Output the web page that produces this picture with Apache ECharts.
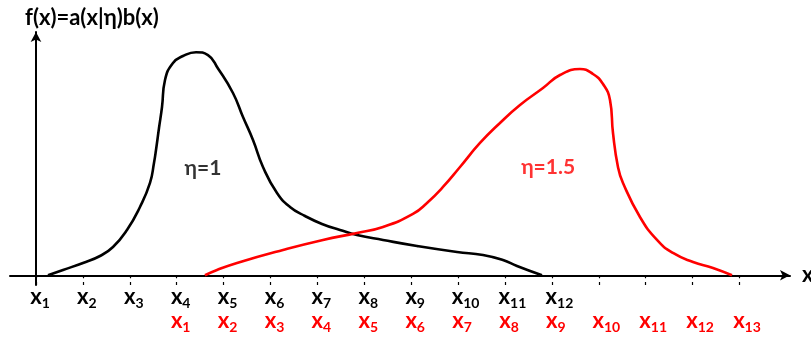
<!DOCTYPE html>
<html>
<head>
<meta charset="utf-8">
<title>f(x)=a(x|η)b(x)</title>
<script src="https://cdn.jsdelivr.net/npm/echarts@6/dist/echarts.min.js"></script>
<style>
  html, body { margin: 0; padding: 0; background: #fff; }
  #chart { width: 811px; height: 339px; }
</style>
</head>
<body>
<div id="chart"></div>
<script>
// Horizontal position is measured in tick steps: tick k sits at value k.
const tickPositions = [0, 1, 2, 3, 4, 5, 6, 7, 8, 9, 10, 11, 12, 13, 14, 15];

// Subscripts of the black tick labels (x1..x12), starting at tick 0
const blackSubscripts = ['1', '2', '3', '4', '5', '6', '7', '8', '9', '10', '11', '12'];
const blackFirstTick = 0;
// Subscripts of the red tick labels (x1..x13), starting at tick 3
const redSubscripts = ['1', '2', '3', '4', '5', '6', '7', '8', '9', '10', '11', '12', '13'];
const redFirstTick = 3;

// Curve for eta = 1: [position, f(x)]
const curveEta1 = [
  [0.256, 0], [0.576, 2.18], [1.002, 5.06], [1.365, 7.93], [1.642, 11.63],
  [1.940, 18.62], [2.217, 28.07], [2.431, 37.94], [2.516, 46.16], [2.559, 51.50],
  [2.623, 60.54], [2.687, 69.17], [2.751, 80.27], [2.921, 87.26], [3.134, 90.13],
  [3.412, 91.70], [3.667, 90.50], [3.881, 85.00], [4.200, 74.93], [4.414, 65.06],
  [4.627, 55.61], [4.840, 44.51], [5.139, 33.80], [5.416, 28.07], [5.736, 24.37],
  [6.098, 21.09], [6.482, 18.62], [6.844, 16.56], [7.399, 14.51], [8.124, 12.04],
  [8.977, 9.58], [9.531, 8.34], [9.957, 6.29], [10.256, 3.82], [10.789, 0]
];

// Curve for eta = 1.5: [position, f(x)]
const curveEta15 = [
  [3.603, 0], [3.859, 2.18], [4.286, 5.06], [5.267, 10.40], [6.119, 14.51],
  [6.844, 17.39], [7.399, 19.85], [8.038, 25.20], [8.337, 29.72], [8.678, 36.29],
  [9.041, 44.51], [9.467, 54.38], [9.893, 62.60], [10.320, 70.00], [10.810, 76.98],
  [11.173, 82.33], [11.599, 84.79], [11.876, 82.74], [12.090, 78.63], [12.239, 72.05],
  [12.303, 58.49], [12.409, 44.51], [12.516, 37.94], [12.878, 23.96], [13.241, 14.51],
  [13.582, 9.17], [14.009, 5.47], [14.435, 3.00], [14.840, 0]
];

// Curve captions: [position, f(x), text]
const captionEta1 = [3.56, 44.0, 'η=1'];
const captionEta15 = [10.92, 44.5, 'η=1.5'];

const FONT = 'Lato, "Open Sans", sans-serif';
const BLACK = '#000000';
const RED = '#ff0000';

function subscriptRich(color) {
  return {
    x:  { fontFamily: FONT, fontWeight: 'bold', fontSize: 22, color: color },
    s:  { fontFamily: FONT, fontWeight: 'bold', fontSize: 14, color: color, verticalAlign: 'bottom', padding: [0, 0, -2, 0] },
    p1: { width: 8 },
    p2: { width: 15 }
  };
}

function makeLabel(subs, first) {
  return function (value) {
    const i = Math.round(value) - first;
    if (i < 0 || i >= subs.length) return '';
    const s = subs[i];
    return '{p' + s.length + '|}{x|x}{s|' + s + '}';
  };
}

const X_MIN = -0.554;
const X_MAX = 16.077;

const chart = echarts.init(document.getElementById('chart'), null, { renderer: 'canvas' });

chart.setOption({
  animation: false,
  backgroundColor: '#ffffff',
  title: {
    text: 'f(x)=a(x|η)b(x)',
    left: 20,
    top: 2,
    textStyle: { fontFamily: FONT, fontWeight: 'bold', fontSize: 22, color: BLACK }
  },
  grid: {
    left: 10, right: 21, top: 32, bottom: 54,
    containLabel: false,
    outerBoundsMode: 'none'
  },
  xAxis: [
    {
      type: 'value',
      min: X_MIN, max: X_MAX,
      position: 'bottom',
      name: 'x',
      nameLocation: 'end',
      nameGap: 12,
      nameTextStyle: { fontFamily: FONT, fontWeight: 'bold', fontSize: 22, color: BLACK, verticalAlign: 'middle' },
      axisLine: {
        onZero: true,
        symbol: ['none', 'arrow'],
        symbolSize: [8, 10],
        lineStyle: { color: BLACK, width: 2 }
      },
      axisTick: { show: true, customValues: tickPositions, length: 3, lineStyle: { color: BLACK, width: 1.2 } },
      axisLabel: {
        show: true,
        customValues: tickPositions.slice(blackFirstTick, blackFirstTick + blackSubscripts.length),
        formatter: makeLabel(blackSubscripts, blackFirstTick),
        margin: 1,
        rich: subscriptRich(BLACK)
      },
      splitLine: { show: false }
    },
    {
      type: 'value',
      min: X_MIN, max: X_MAX,
      position: 'bottom',
      axisLine: { show: false, onZero: true },
      axisTick: { show: true, inside: true, customValues: tickPositions, length: 3, lineStyle: { color: BLACK, width: 1.2 } },
      axisLabel: {
        show: true,
        customValues: tickPositions.slice(redFirstTick, redFirstTick + redSubscripts.length),
        formatter: makeLabel(redSubscripts, redFirstTick),
        margin: 25,
        rich: subscriptRich(RED)
      },
      splitLine: { show: false }
    }
  ],
  yAxis: {
    type: 'value',
    min: -4, max: 100,
    axisLine: {
      show: true,
      onZero: true,
      symbol: ['none', 'arrow'],
      symbolSize: [8, 10],
      lineStyle: { color: BLACK, width: 2 }
    },
    axisTick: { show: false },
    axisLabel: { show: false },
    splitLine: { show: false }
  },
  series: [
    {
      name: 'η=1',
      type: 'line',
      data: curveEta1,
      smooth: 0.5,
      showSymbol: false,
      lineStyle: { color: BLACK, width: 2.6 },
      z: 3
    },
    {
      name: 'η=1.5',
      type: 'line',
      data: curveEta15,
      smooth: 0.5,
      showSymbol: false,
      lineStyle: { color: RED, width: 2.6 },
      z: 3
    },
    {
      type: 'scatter',
      data: [captionEta1, captionEta15].map(c => ({
        value: [c[0], c[1]],
        label: { color: c === captionEta1 ? BLACK : RED }
      })),
      symbolSize: 0,
      label: {
        show: true,
        position: 'inside',
        formatter: (p) => (p.dataIndex === 0 ? captionEta1[2] : captionEta15[2]),
        fontFamily: FONT,
        fontWeight: 'bold',
        fontSize: 21
      },
      silent: true,
      z: 4
    }
  ]
});
</script>
</body>
</html>
